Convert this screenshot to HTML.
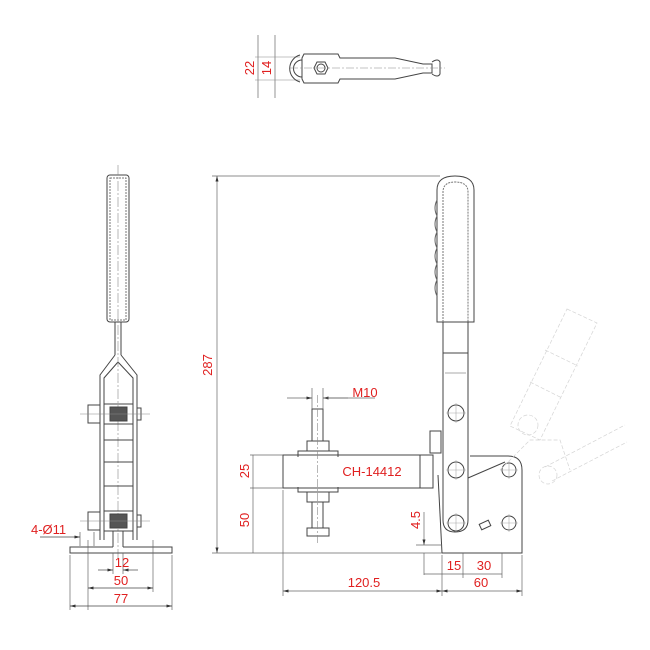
<!DOCTYPE html>
<html><head><meta charset="utf-8"><style>
html,body{margin:0;padding:0;background:#fff;}
svg{display:block;}
text{font-family:"Liberation Sans",Arial,sans-serif;fill:#e02020;font-size:13px;}
</style></head><body>
<svg width="650" height="650" viewBox="0 0 650 650" xmlns="http://www.w3.org/2000/svg">
<defs>
<marker id="a" markerWidth="8" markerHeight="6" refX="8" refY="3" orient="auto-start-reverse"><path d="M0,0.8 L8,3 L0,5.2 Z" fill="#333"/></marker>
</defs>
<g fill="none" stroke="#444" stroke-width="1">
<!-- TOP VIEW -->
<line x1="258" y1="35" x2="258" y2="98" stroke="#666" stroke-width="0.7"/>
<line x1="275" y1="35" x2="275" y2="98" stroke="#666" stroke-width="0.7"/>
<line x1="255" y1="57" x2="300" y2="57" stroke="#888" stroke-width="0.6"/>
<line x1="255" y1="80" x2="300" y2="80" stroke="#888" stroke-width="0.6"/>
<path d="M300,55 A14,14 0 0 0 300,82" />
<path d="M302,60 A8,8 0 0 0 302,77" />
<path d="M304,54 L338,54 L340,58 L395,58 L423,64 L432,64 L432,73 L423,73 L395,79 L340,79 L338,83 L304,83 L302,79 L302,58 Z"/>
<polygon points="314,68 317,62 325,62 328,68 325,74 317,74"/>
<circle cx="321" cy="68" r="4"/>
<path d="M432,62 q6,-4 8,0 v12 q-2,4 -8,0" />
<line x1="290" y1="68" x2="445" y2="68" stroke="#888" stroke-dasharray="8,2,2,2" stroke-width="0.6"/>

<!-- LEFT VIEW -->
<rect x="107" y="175" width="22" height="147" rx="3"/>
<rect x="110" y="178" width="16" height="142" stroke="#777" stroke-dasharray="2,1"/>
<line x1="115" y1="322" x2="115" y2="355"/><line x1="121" y1="322" x2="121" y2="355"/>
<path d="M115,355 L100,375 L100,540"/><path d="M121,355 L137,375 L137,540"/>
<path d="M118,362 L104,378 L104,540"/><path d="M118,362 L133,378 L133,540"/>
<line x1="118" y1="165" x2="118" y2="560" stroke="#888" stroke-dasharray="10,2,2,2" stroke-width="0.6"/>
<rect x="88" y="405" width="12" height="18"/><rect x="88" y="512" width="12" height="18"/>
<rect x="104" y="404" width="29" height="20"/><rect x="104" y="511" width="29" height="20"/>
<rect x="110" y="407" width="17" height="14" fill="#555"/><rect x="110" y="514" width="17" height="14" fill="#555"/>
<rect x="137" y="408" width="4" height="12"/><rect x="137" y="515" width="4" height="12"/>
<line x1="80" y1="414" x2="150" y2="414" stroke="#888" stroke-width="0.6"/>
<line x1="80" y1="521" x2="150" y2="521" stroke="#888" stroke-width="0.6"/>
<rect x="104" y="440" width="29" height="22"/><rect x="104" y="462" width="29" height="24"/>
<line x1="113" y1="531" x2="113" y2="547"/><line x1="123" y1="531" x2="123" y2="547"/>
<path d="M113,547 L70,547 L70,553 L172,553 L172,547 L123,547"/>
<line x1="88" y1="540" x2="88" y2="610" stroke="#666" stroke-width="0.7"/>
<line x1="153" y1="540" x2="153" y2="592" stroke="#666" stroke-width="0.7"/>
<line x1="70" y1="555" x2="70" y2="610" stroke="#666" stroke-width="0.7"/>
<line x1="172" y1="555" x2="172" y2="610" stroke="#666" stroke-width="0.7"/>
<line x1="113" y1="553" x2="113" y2="574" stroke="#666" stroke-width="0.7"/>
<line x1="123" y1="553" x2="123" y2="574" stroke="#666" stroke-width="0.7"/>
<line x1="98" y1="570" x2="113" y2="570" marker-end="url(#a)" stroke-width="0.7"/>
<line x1="138" y1="570" x2="123" y2="570" marker-end="url(#a)" stroke-width="0.7"/>
<line x1="88" y1="588" x2="153" y2="588" marker-start="url(#a)" marker-end="url(#a)" stroke-width="0.7"/>
<line x1="70" y1="606" x2="172" y2="606" marker-start="url(#a)" marker-end="url(#a)" stroke-width="0.7"/>
<line x1="40" y1="537" x2="80" y2="537" stroke-width="0.7" marker-end="url(#a)"/>
<line x1="80" y1="532" x2="80" y2="546" stroke-width="0.6"/><line x1="94" y1="532" x2="94" y2="546" stroke-width="0.6"/>

<!-- MAIN VIEW: handle -->
<path d="M437,322 L437,190 Q437,176 455,176 Q474,176 474,190 L474,322 Z"/>
<path d="M443,322 L443,192 Q443,182 455,182 Q468,182 468,192 L468,322" stroke="#777" stroke-dasharray="2,1"/>
<path d="M437,200 q-4,8 0,16 q-4,8 0,16 q-4,8 0,16 q-4,8 0,16 q-4,8 0,16 q-4,8 0,16" stroke="#666"/>
<path d="M443,322 L443,520 Q443,532 455,532 Q468,532 468,520 L468,322"/>
<line x1="443" y1="353" x2="468" y2="353"/><line x1="445" y1="373" x2="466" y2="373" stroke="#aaa"/>
<circle cx="456" cy="413" r="8"/><circle cx="456" cy="470" r="8"/><circle cx="456" cy="523" r="8"/>
<!-- body -->
<path d="M442,553 L522,553 L522,470 Q522,456 508,456 L470,456"/>
<path d="M468,478 L505,462"/>
<path d="M438,475 L442,553"/>
<rect x="430" y="431" width="11" height="22"/>
<circle cx="509" cy="470" r="7"/><circle cx="509" cy="523" r="7"/>
<rect x="480" y="522" width="10" height="6" transform="rotate(-25 485 525)"/>
<g stroke="#aaa" stroke-width="0.6">
<line x1="446" y1="413" x2="466" y2="413"/><line x1="456" y1="403" x2="456" y2="423"/>
<line x1="446" y1="470" x2="466" y2="470"/><line x1="456" y1="460" x2="456" y2="480"/>
<line x1="446" y1="523" x2="466" y2="523"/><line x1="456" y1="513" x2="456" y2="533"/>
<line x1="500" y1="470" x2="518" y2="470"/><line x1="509" y1="461" x2="509" y2="479"/>
<line x1="500" y1="523" x2="518" y2="523"/><line x1="509" y1="514" x2="509" y2="532"/>
</g>
<!-- spindle arm -->
<rect x="283" y="455" width="150" height="33"/>
<line x1="420" y1="455" x2="420" y2="488"/>
<rect x="312" y="409" width="11" height="32"/>
<rect x="307" y="441" width="22" height="10"/>
<path d="M298,457 L298,451 L338,451 L338,457"/>
<path d="M298,487 L298,492 L338,492 L338,487"/>
<rect x="307" y="492" width="22" height="10"/>
<rect x="312" y="502" width="11" height="26"/>
<rect x="307" y="528" width="22" height="8"/>
<line x1="317.5" y1="395" x2="317.5" y2="545" stroke="#888" stroke-dasharray="8,2,2,2" stroke-width="0.6"/>
<!-- ghost -->
<g stroke="#d4d4d4" stroke-width="0.7" stroke-dasharray="4,2">
<path d="M567,309 L597,323 L540,440 L510,426 Z"/>
<line x1="545" y1="350" x2="578" y2="366"/>
<line x1="530" y1="382" x2="562" y2="398"/>
<circle cx="528" cy="425" r="10"/>
<path d="M545,467 L625,425 M552,481 L627,442"/>
<circle cx="548" cy="475" r="9"/>
<path d="M500,470 L530,440 L560,440 L570,470"/>
</g>
<!-- dims main -->
<g stroke="#666" stroke-width="0.7">
<line x1="212" y1="176" x2="440" y2="176"/>
<line x1="212" y1="553" x2="442" y2="553"/>
<line x1="217" y1="176" x2="217" y2="553" marker-start="url(#a)" marker-end="url(#a)"/>
<line x1="250" y1="455" x2="283" y2="455"/><line x1="250" y1="488" x2="283" y2="488"/>
<line x1="253" y1="455" x2="253" y2="553"/>
<line x1="312" y1="388" x2="312" y2="409"/><line x1="323" y1="388" x2="323" y2="409"/>
<line x1="287" y1="398" x2="312" y2="398" marker-end="url(#a)"/>
<line x1="348" y1="398" x2="323" y2="398" marker-end="url(#a)"/>
<line x1="323" y1="398" x2="375" y2="398"/>
<line x1="424" y1="512" x2="424" y2="545" marker-end="url(#a)"/>
<line x1="424" y1="553" x2="424" y2="575"/>
<line x1="416" y1="545" x2="442" y2="545"/>
<line x1="283" y1="490" x2="283" y2="596"/>
<line x1="442" y1="555" x2="442" y2="596"/>
<line x1="522" y1="555" x2="522" y2="596"/>
<line x1="463" y1="553" x2="463" y2="578"/>
<line x1="502" y1="553" x2="502" y2="578"/>
<line x1="424" y1="574" x2="463" y2="574"/>
<line x1="463" y1="574" x2="502" y2="574"/>
<line x1="283" y1="591" x2="442" y2="591" marker-start="url(#a)" marker-end="url(#a)"/>
<line x1="442" y1="591" x2="522" y2="591" marker-start="url(#a)" marker-end="url(#a)"/>
</g>
</g>
<!-- text -->
<text x="254" y="68" transform="rotate(-90 254 68)" text-anchor="middle" font-size="13" dy="0">22</text>
<text x="271" y="68" transform="rotate(-90 271 68)" text-anchor="middle" font-size="13">14</text>
<text x="212" y="365" transform="rotate(-90 212 365)" text-anchor="middle">287</text>
<text x="249" y="471" transform="rotate(-90 249 471)" text-anchor="middle">25</text>
<text x="249" y="520" transform="rotate(-90 249 520)" text-anchor="middle">50</text>
<text x="420" y="520" transform="rotate(-90 420 520)" text-anchor="middle">4.5</text>
<text x="365" y="397" text-anchor="middle">M10</text>
<text x="372" y="476" text-anchor="middle">CH-14412</text>
<text x="454" y="570" text-anchor="middle">15</text>
<text x="484" y="570" text-anchor="middle">30</text>
<text x="364" y="587" text-anchor="middle">120.5</text>
<text x="481" y="587" text-anchor="middle">60</text>
<text x="122" y="567" text-anchor="middle">12</text>
<text x="121" y="585" text-anchor="middle">50</text>
<text x="121" y="603" text-anchor="middle">77</text>
<text x="31" y="534">4-Ø11</text>
</svg>
</body></html>
